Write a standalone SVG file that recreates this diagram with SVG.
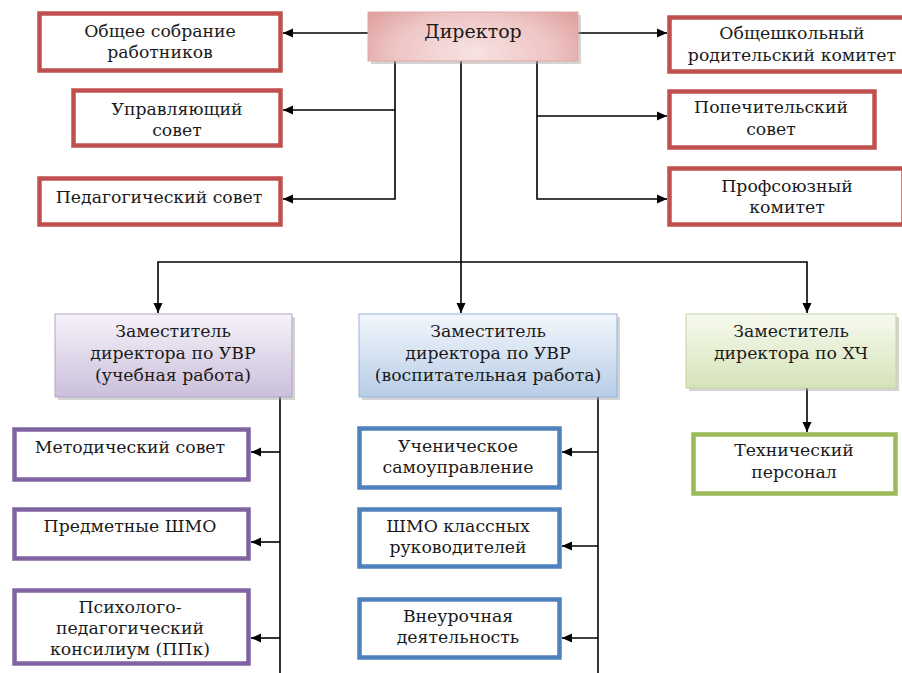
<svg xmlns="http://www.w3.org/2000/svg" width="902" height="673" viewBox="0 0 902 673">
<style>
  text { font-family: "DejaVu Serif", "Liberation Serif", serif; font-size: 17.3px; fill: #1a1a1a; text-anchor: middle; }
  .red { fill: #ffffff; stroke: #c0504d; stroke-width: 4.5; }
  .pur { fill: #ffffff; stroke: #8064a2; stroke-width: 4.5; }
  .blu { fill: #ffffff; stroke: #4f81bd; stroke-width: 4.5; }
  .grn { fill: #ffffff; stroke: #9bbb59; stroke-width: 4.5; }
  .shadow { fill: #a0a0a0; opacity: 0.45; }
  .conn { fill: none; stroke: #000000; stroke-width: 1.6; }
  .arr { marker-end: url(#ah); }
</style>
<defs>
  <marker id="ah" markerUnits="userSpaceOnUse" markerWidth="10" markerHeight="10" refX="10" refY="5" orient="auto">
    <path d="M0,0.5 L10,5 L0,9.5 z" fill="#000000"/>
  </marker>
  <radialGradient id="gDir" cx="0.5" cy="0.85" r="0.75" gradientTransform="translate(0.5,0.85) scale(1,2.2) translate(-0.5,-0.85)">
    <stop offset="0" stop-color="#f7e3e3"/>
    <stop offset="0.5" stop-color="#eec5c4"/>
    <stop offset="1" stop-color="#d58a88"/>
  </radialGradient>
  <linearGradient id="gPur" x1="0" y1="0" x2="0" y2="1">
    <stop offset="0" stop-color="#f6f2fa"/>
    <stop offset="1" stop-color="#cbbfdb"/>
  </linearGradient>
  <linearGradient id="gBlu" x1="0" y1="0" x2="0" y2="1">
    <stop offset="0" stop-color="#f3f7fc"/>
    <stop offset="1" stop-color="#b7cce6"/>
  </linearGradient>
  <linearGradient id="gGrn" x1="0" y1="0" x2="0" y2="1">
    <stop offset="0" stop-color="#f7faef"/>
    <stop offset="1" stop-color="#d5e3b9"/>
  </linearGradient>
</defs>

<g id="connectors">
  <path class="conn arr" d="M368,33 H283"/>
  <path class="conn arr" d="M578,33 H667"/>
  <path class="conn arr" d="M395,61 V199 H283"/>
  <path class="conn arr" d="M395,110 H283"/>
  <path class="conn arr" d="M537,61 V199 H667"/>
  <path class="conn arr" d="M537,116 H667"/>
  <path class="conn arr" d="M461,61 V313"/>
  <path class="conn arr" d="M461,262 H158 V313"/>
  <path class="conn arr" d="M461,262 H807 V313"/>
  <path class="conn" d="M280,397 V673"/>
  <path class="conn arr" d="M280,452 H251"/>
  <path class="conn arr" d="M280,542 H251"/>
  <path class="conn arr" d="M280,638 H251"/>
  <path class="conn" d="M598,397 V673"/>
  <path class="conn arr" d="M598,452 H562"/>
  <path class="conn arr" d="M598,546 H562"/>
  <path class="conn arr" d="M598,638 H562"/>
  <path class="conn arr" d="M807,388 V432"/>
</g>

<g id="director">
  <rect class="shadow" x="371" y="15" width="210" height="49"/>
  <rect x="368" y="12" width="210" height="49" fill="url(#gDir)" stroke="#e0a9a8" stroke-width="1"/>
  <text x="473" y="38" style="font-size:19px">Директор</text>
</g>

<g id="obshchee-sobranie">
  <rect class="red" x="39.5" y="13.5" width="241" height="57"/>
  <text x="160" y="37">Общее собрание</text>
  <text x="160" y="58">работников</text>
</g>

<g id="upravlyayushchiy">
  <rect class="red" x="73.5" y="90.5" width="207" height="55"/>
  <text x="177" y="115">Управляющий</text>
  <text x="177" y="136">совет</text>
</g>

<g id="pedsovet">
  <rect class="red" x="39.5" y="178.5" width="241" height="46"/>
  <text x="159" y="203">Педагогический совет</text>
</g>

<g id="roditelskiy">
  <rect class="red" x="669.5" y="17.5" width="236" height="54"/>
  <text x="792" y="39">Общешкольный</text>
  <text x="792" y="61">родительский комитет</text>
</g>

<g id="popechitelskiy">
  <rect class="red" x="669.5" y="91.5" width="205" height="56"/>
  <text x="771" y="113">Попечительский</text>
  <text x="771" y="135">совет</text>
</g>

<g id="profsoyuz">
  <rect class="red" x="669.5" y="168.5" width="234" height="56"/>
  <text x="787" y="192">Профсоюзный</text>
  <text x="787" y="213">комитет</text>
</g>

<g id="zam-uchebnaya">
  <rect class="shadow" x="58" y="317" width="237" height="83"/>
  <rect x="55" y="314" width="237" height="83" fill="url(#gPur)" stroke="#b3a2c7" stroke-width="1"/>
  <text x="173" y="337">Заместитель</text>
  <text x="173" y="359">директора по УВР</text>
  <text x="173" y="381">(учебная работа)</text>
</g>

<g id="zam-vospitatelnaya">
  <rect class="shadow" x="362" y="317" width="258" height="83"/>
  <rect x="359" y="314" width="258" height="83" fill="url(#gBlu)" stroke="#95b3d7" stroke-width="1"/>
  <text x="488" y="337">Заместитель</text>
  <text x="488" y="359">директора по УВР</text>
  <text x="488" y="381">(воспитательная работа)</text>
</g>

<g id="zam-hch">
  <rect class="shadow" x="689" y="317" width="210" height="74"/>
  <rect x="686" y="314" width="210" height="74" fill="url(#gGrn)" stroke="#c3d69b" stroke-width="1"/>
  <text x="791" y="337">Заместитель</text>
  <text x="791" y="359">директора по ХЧ</text>
</g>

<g id="metodicheskiy">
  <rect class="pur" x="14.5" y="429.5" width="234" height="50"/>
  <text x="130" y="453">Методический совет</text>
</g>

<g id="predmetnye-shmo">
  <rect class="pur" x="14.5" y="509.5" width="234" height="49"/>
  <text x="130" y="532">Предметные ШМО</text>
</g>

<g id="ppk">
  <rect class="pur" x="14.5" y="590.5" width="234" height="73"/>
  <text x="130" y="613">Психолого-</text>
  <text x="130" y="634">педагогический</text>
  <text x="130" y="655">консилиум (ППк)</text>
</g>

<g id="uchenicheskoe">
  <rect class="blu" x="359.5" y="428.5" width="200" height="59"/>
  <text x="458" y="452">Ученическое</text>
  <text x="458" y="473">самоуправление</text>
</g>

<g id="shmo-klassnyh">
  <rect class="blu" x="359.5" y="509.5" width="200" height="57"/>
  <text x="458" y="532">ШМО классных</text>
  <text x="458" y="553">руководителей</text>
</g>

<g id="vneurochnaya">
  <rect class="blu" x="359.5" y="599.5" width="200" height="58"/>
  <text x="458" y="622">Внеурочная</text>
  <text x="458" y="643">деятельность</text>
</g>

<g id="tehnicheskiy">
  <rect class="grn" x="693.5" y="434.5" width="202" height="59"/>
  <text x="794" y="456">Технический</text>
  <text x="794" y="478">персонал</text>
</g>
</svg>
